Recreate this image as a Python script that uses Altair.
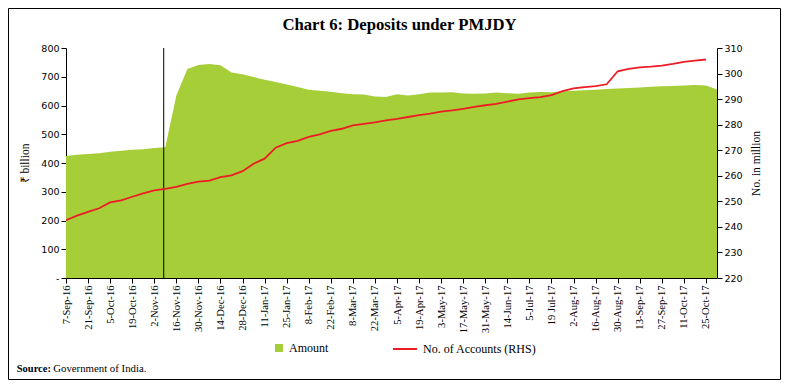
import altair as alt
import pandas as pd

# ---- data ----
week_labels = ["7-Sep-16", "21-Sep-16", "5-Oct-16", "19-Oct-16", "2-Nov-16", "16-Nov-16",
               "30-Nov-16", "14-Dec-16", "28-Dec-16", "11-Jan-17", "25-Jan-17", "8-Feb-17",
               "22-Feb-17", "8-Mar-17", "22-Mar-17", "5-Apr-17", "19-Apr-17", "3-May-17",
               "17-May-17", "31-May-17", "14-Jun-17", "5-Jul-17", "19 Jul-17", "2-Aug-17",
               "16-Aug-17", "30-Aug-17", "13-Sep-17", "27-Sep-17", "11-Oct-17", "25-Oct-17"]

# deposits amount (Rs billion), weekly
amount = [424, 429, 431, 434, 439, 443, 446, 448, 452, 455,
          635, 727, 741, 744, 740, 715, 709, 699, 690, 682,
          673, 664, 655, 651, 648, 643, 639, 638, 631, 630,
          639, 635, 639, 645, 645, 646, 642, 641, 642, 645,
          643, 641, 645, 647, 646, 650, 651, 653, 655, 657,
          659, 661, 663, 665, 667, 668, 670, 671, 670, 656]

# number of accounts (million), weekly
accounts = [242.6, 244.4, 245.9, 247.3, 249.6, 250.4, 251.8, 253.1, 254.3, 254.9,
            255.7, 256.8, 257.7, 258.1, 259.5, 260.2, 261.8, 264.7, 266.7, 271.0,
            272.8, 273.7, 275.2, 276.2, 277.6, 278.4, 279.7, 280.3, 280.9, 281.7,
            282.3, 283.0, 283.7, 284.3, 285.1, 285.6, 286.2, 287.0, 287.6, 288.1,
            289.0, 289.9, 290.4, 290.8, 291.6, 293.1, 294.2, 294.7, 295.1, 295.8,
            300.9, 301.8, 302.4, 302.7, 303.1, 303.8, 304.6, 305.1, 305.5]

demonetisation_idx = [8.857]  # 8-Nov-16, between the 2-Nov and 9-Nov observations

left_ticks = [0, 100, 200, 300, 400, 500, 600, 700, 800]
right_ticks = [220, 230, 240, 250, 260, 270, 280, 290, 300, 310]

GREEN = "#A6CE39"
RED = "#ED1C24"
SERIF = "Liberation Serif"
SANS = "DejaVu Sans"

n = len(amount)
df = pd.DataFrame({
    "idx": list(range(n)),
    "amount": amount,
    "accounts": accounts + [None] * (n - len(accounts)),
    "s_area": ["Amount"] * n,
    "s_line": ["No. of Accounts (RHS)"] * n,
})

label_array = "[" + ",".join("'" + s + "'" for s in week_labels) + "]"
x_scale = alt.Scale(domain=[0, n - 1], nice=False, zero=False)
x_axis = alt.Axis(
    values=list(range(0, 2 * len(week_labels), 2)),
    labelExpr=label_array + "[round(datum.value / 2)]",
    labelAngle=270, labelFont=SERIF, labelFontSize=10.6, labelPadding=2,
    tickSize=5, grid=False, title=None, domainColor="#000", tickColor="#000",
    labelColor="#000", labelOverlap=False,
)

area = alt.Chart(df).mark_area(opacity=1, interpolate="linear").encode(
    x=alt.X("idx:Q", scale=x_scale, axis=x_axis),
    y=alt.Y(
        "amount:Q",
        scale=alt.Scale(domain=[0, 800], nice=False),
        axis=alt.Axis(
            values=left_ticks, labelExpr="datum.value == 0 ? '-' : datum.label",
            labelFont=SANS, labelFontSize=9.5, labelPadding=2, tickSize=5,
            grid=False, domainColor="#000", tickColor="#000", labelColor="#000",
            title="₹ billion", titleFont=SERIF, titleFontSize=11.5, titleFontWeight="normal",
            titleColor="#000", titleAngle=270, titleX=-41, titleY=115,
            titleBaseline="middle", titleAlign="center",
        ),
    ),
    color=alt.Color(
        "s_area:N",
        scale=alt.Scale(domain=["Amount"], range=[GREEN]),
        legend=alt.Legend(
            title=None, orient="none", legendX=207, legendY=294, symbolType="square",
            symbolSize=64, symbolStrokeWidth=0, labelFont=SERIF, labelFontSize=12,
            labelColor="#000", labelOffset=4, padding=0,
        ),
    ),
)

rule = alt.Chart(pd.DataFrame({"idx": demonetisation_idx})).mark_rule(
    color="#000", strokeWidth=1
).encode(x=alt.X("idx:Q", scale=x_scale, axis=x_axis))

line = alt.Chart(df).mark_line(strokeWidth=1.8).encode(
    x=alt.X("idx:Q", scale=x_scale, axis=x_axis),
    y=alt.Y(
        "accounts:Q",
        scale=alt.Scale(domain=[220, 310], nice=False, zero=False),
        axis=alt.Axis(
            orient="right", values=right_ticks, labelFont=SANS, labelFontSize=9.5,
            labelPadding=2, tickSize=5, grid=False, domainColor="#000", tickColor="#000",
            labelColor="#000", title="No. in million", titleFont=SERIF, titleFontSize=11.5,
            titleFontWeight="normal", titleColor="#000", titleAngle=270, titleX=39,
            titleY=115, titleBaseline="middle", titleAlign="center",
        ),
    ),
    stroke=alt.Stroke(
        "s_line:N",
        scale=alt.Scale(domain=["No. of Accounts (RHS)"], range=[RED]),
        legend=alt.Legend(
            title=None, orient="none", legendX=326, legendY=288, symbolType="stroke",
            symbolSize=576, symbolStrokeWidth=2, labelFont=SERIF, labelFontSize=12,
            labelColor="#000", labelOffset=5, padding=0,
        ),
    ),
)

src_bold = alt.Chart(pd.DataFrame({"t": ["Source:"]})).mark_text(
    font=SERIF, fontSize=10.5, fontWeight="bold", align="left", baseline="alphabetic", color="#000"
).encode(text="t:N", x=alt.value(-49.3), y=alt.value(324))

src_txt = alt.Chart(pd.DataFrame({"t": ["Government of India."]})).mark_text(
    font=SERIF, fontSize=10.8, align="left", baseline="alphabetic", color="#000"
).encode(text="t:N", x=alt.value(-12.8), y=alt.value(324))

frame = alt.Chart(pd.DataFrame({"f": [1]})).mark_rect(
    fill="transparent", stroke="#000", strokeWidth=1
).encode(x=alt.value(-57.5), x2=alt.value(714.5), y=alt.value(-39.5), y2=alt.value(331.5))

chart = alt.layer(area, rule, line, src_bold, src_txt, frame).resolve_scale(
    y="independent"
).properties(
    width=651,
    height=230,
    padding={"left": 58, "top": 40, "right": 66, "bottom": 102},
    autosize=alt.AutoSizeParams(type="none"),
    title=alt.TitleParams(
        text="Chart 6: Deposits under PMJDY", font=SERIF, fontSize=16.7, fontWeight="bold",
        anchor="middle", dx=8, offset=-39, baseline="alphabetic", color="#000",
    ),
).configure_view(stroke=None)

chart.save("out.html", embed_options={"renderer": "svg", "actions": False})
